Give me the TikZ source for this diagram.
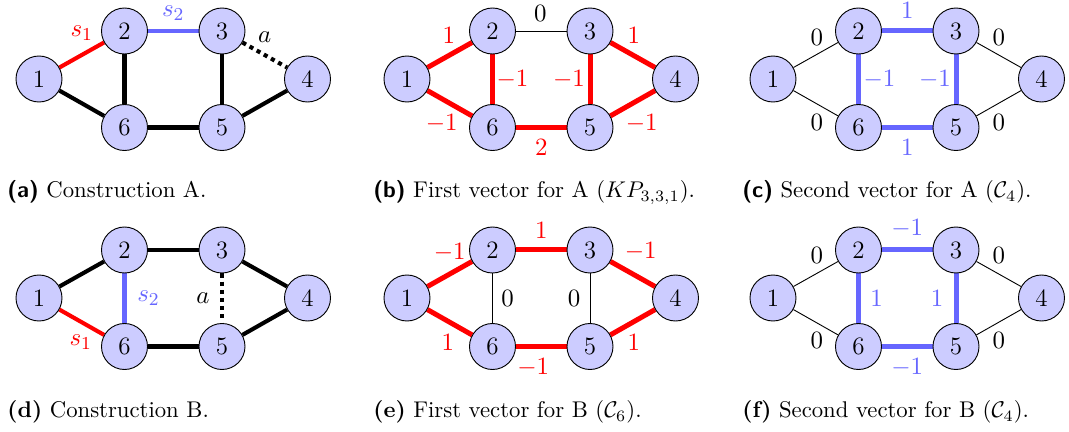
\documentclass[tikz,border=0pt]{standalone}
\usetikzlibrary{backgrounds}
\newcommand\mkgraph[3]{%
  \node[vtx] (#11) at (#2,#3) {1};
  \node[vtx] (#12) at ({#2+85.5},{#3-48}) {2};
  \node[vtx] (#13) at ({#2+183},{#3-48}) {3};
  \node[vtx] (#14) at ({#2+268.5},#3) {4};
  \node[vtx] (#15) at ({#2+183},{#3+48.5}) {5};
  \node[vtx] (#16) at ({#2+85.5},{#3+48.5}) {6};
}
\begin{document}
\begin{tikzpicture}[x=0.44pt,y=-0.44pt,
  gfont/.style={font=\fontsize{11}{13}\selectfont},
  vtx/.style={circle,draw=black,line width=0.4pt,fill=blue!20,minimum size=20.24pt,inner sep=0pt,gfont},
  cA/.style={line width=1.8pt,black},
  cRed/.style={line width=1.8pt,red},
  cBlue/.style={line width=1.8pt,blue!60},
  dotE/.style={line width=1.8pt,black,dash pattern=on 1.8pt off 1.8pt},
  vR/.style={line width=2.2pt,red},
  vB/.style={line width=2.2pt,blue!60},
  tn/.style={line width=0.4pt,black},
  lbl/.style={inner sep=0pt,gfont},
  lr/.style={lbl,text=red},
  lb/.style={lbl,text=blue!60},
  captxt/.style={anchor=base west,inner sep=0pt}
]
\useasboundingbox (0,0) rectangle (1069,432);
% ---------- nodes ----------
\mkgraph{a}{39}{79}
\mkgraph{b}{407}{79}
\mkgraph{c}{773}{79}
\mkgraph{d}{39}{298}
\mkgraph{e}{407}{298}
\mkgraph{f}{773}{298}
\begin{pgfonlayer}{background}
% ---------- (a) ----------
\draw[cRed] (a1) -- node[lr,shift={(0,-22)}] {$s_1$} (a2);
\draw[cBlue] (a2) -- node[lb,shift={(0,-18)}] {$s_2$} (a3);
\draw[dotE] (a3) -- node[lbl,shift={(0,-18)}] {$a$} (a4);
\draw[cA] (a2) -- (a6);
\draw[cA] (a1) -- (a6);
\draw[cA] (a6) -- (a5);
\draw[cA] (a3) -- (a5);
\draw[cA] (a5) -- (a4);
% ---------- (d) ----------
\draw[cA] (d1) -- (d2);
\draw[cA] (d2) -- (d3);
\draw[cA] (d3) -- (d4);
\draw[cA] (d5) -- (d4);
\draw[cA] (d6) -- (d5);
\draw[cRed] (d1) -- node[lr,shift={(-1,20)}] {$s_1$} (d6);
\draw[cBlue] (d2) -- node[lb,shift={(24,0)}] {$s_2$} (d6);
\draw[dotE] (d3) -- node[lbl,shift={(-19,0)}] {$a$} (d5);
% ---------- (b) ----------
\draw[vR] (b1) -- node[lr,shift={(-1,-20)}] {$1$} (b2);
\draw[tn] (b2) -- node[lbl,shift={(-1,-18)}] {$0$} (b3);
\draw[vR] (b3) -- node[lr,shift={(1,-20)}] {$1$} (b4);
\draw[vR] (b2) -- node[lr,shift={(20,0)}] {$-1$} (b6);
\draw[vR] (b3) -- node[lr,shift={(-21,0)}] {$-1$} (b5);
\draw[vR] (b1) -- node[lr,shift={(-8,20)}] {$-1$} (b6);
\draw[vR] (b6) -- node[lr,shift={(0,20)}] {$2$} (b5);
\draw[vR] (b5) -- node[lr,shift={(9,20)}] {$-1$} (b4);
% ---------- (c) ----------
\draw[tn] (c1) -- node[lbl,shift={(1,-18)}] {$0$} (c2);
\draw[vB] (c2) -- node[lb,shift={(0,-21)}] {$1$} (c3);
\draw[tn] (c3) -- node[lbl,shift={(0,-18)}] {$0$} (c4);
\draw[vB] (c2) -- node[lb,shift={(21,0)}] {$-1$} (c6);
\draw[vB] (c3) -- node[lb,shift={(-21,0)}] {$-1$} (c5);
\draw[tn] (c1) -- node[lbl,shift={(1,19)}] {$0$} (c6);
\draw[vB] (c6) -- node[lb,shift={(0,20)}] {$1$} (c5);
\draw[tn] (c5) -- node[lbl,shift={(0,19)}] {$0$} (c4);
% ---------- (e) ----------
\draw[vR] (e1) -- node[lr,shift={(0,-21)}] {$-1$} (e2);
\draw[vR] (e2) -- node[lr,shift={(0,-20)}] {$1$} (e3);
\draw[vR] (e3) -- node[lr,shift={(8,-22)}] {$-1$} (e4);
\draw[tn] (e2) -- node[lbl,shift={(15,0)}] {$0$} (e6);
\draw[tn] (e3) -- node[lbl,shift={(-16,0)}] {$0$} (e5);
\draw[vR] (e1) -- node[lr,shift={(-2,20)}] {$1$} (e6);
\draw[vR] (e6) -- node[lr,shift={(-8,21)}] {$-1$} (e5);
\draw[vR] (e5) -- node[lr,shift={(1,20)}] {$1$} (e4);
% ---------- (f) ----------
\draw[tn] (f1) -- node[lbl,shift={(1,-19)}] {$0$} (f2);
\draw[vB] (f2) -- node[lb,shift={(0,-21)}] {$-1$} (f3);
\draw[tn] (f3) -- node[lbl,shift={(0,-19)}] {$0$} (f4);
\draw[vB] (f2) -- node[lb,shift={(18,0)}] {$1$} (f6);
\draw[vB] (f3) -- node[lb,shift={(-19,0)}] {$1$} (f5);
\draw[tn] (f1) -- node[lbl,shift={(1,18)}] {$0$} (f6);
\draw[vB] (f6) -- node[lb,shift={(0,21)}] {$-1$} (f5);
\draw[tn] (f5) -- node[lbl,shift={(0,18)}] {$0$} (f4);
\end{pgfonlayer}
% ---------- captions ----------
\node[captxt] (capa) at (7,198) {\textsf{\textbf{(a)}} Construction A.};
\node[captxt] (capb) at (373,198) {\textsf{\textbf{(b)}} First vector for A ($KP_{3,3,1}$).};
\node[captxt] (capc) at (742,198) {\textsf{\textbf{(c)}} Second vector for A ($\mathcal{C}_4$).};
\node[captxt] (capd) at (7,418) {\textbf{(d)} Construction B.};
\node[captxt] (cape) at (373,418) {\textbf{(e)} First vector for B ($\mathcal{C}_6$).};
\node[captxt] (capf) at (742,418) {\textbf{(f)} Second vector for B ($\mathcal{C}_4$).};
\end{tikzpicture}
\end{document}
